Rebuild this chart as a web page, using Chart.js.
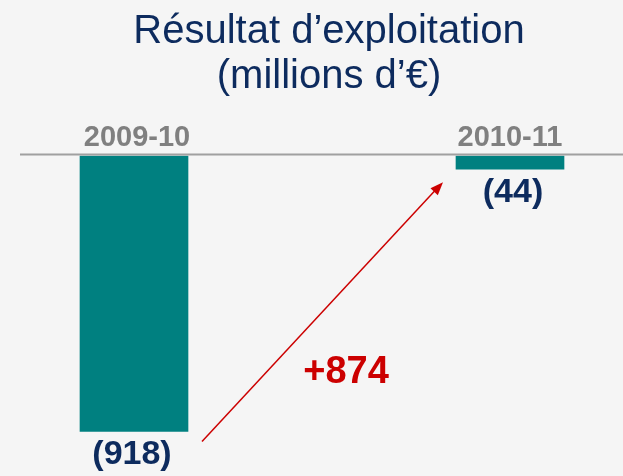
<!DOCTYPE html>
<html>
<head>
<meta charset="utf-8">
<script src="https://cdn.jsdelivr.net/npm/chart.js@4"></script>
<style>
  html, body { margin: 0; padding: 0; background: #f5f5f5; }
  #wrap { width: 623px; height: 476px; }
</style>
</head>
<body>
<div id="wrap"><canvas id="resChart" width="623" height="476"></canvas></div>
<script>
const titleLines = ['Résultat d\u2019exploitation', '(millions d\u2019\u20ac)'];
const periods = ['2009-10', '2010-11'];
const results = [-918, -44];
const changeLabel = '+874';

// étiquettes : (918) au lieu de -918
const fmt = v => v < 0 ? '(' + Math.abs(v) + ')' : String(v);

const decorPlugin = {
  id: 'decor',
  beforeDraw(chart) {
    const c = chart.ctx;
    c.save();
    c.fillStyle = '#f5f5f5';
    c.fillRect(0, 0, chart.width, chart.height);
    c.restore();
  },
  afterDatasetsDraw(chart) {
    const c = chart.ctx;
    const y = chart.scales.y;
    const meta = chart.getDatasetMeta(0);
    const zero = y.getPixelForValue(0);
    c.save();

    // titre
    c.fillStyle = '#0d2b5e';
    c.font = '40px "Liberation Sans", Arial, sans-serif';
    c.textAlign = 'center';
    c.textBaseline = 'alphabetic';
    c.fillText(titleLines[0], 329, 43);
    c.fillText(titleLines[1], 329, 88);

    // ligne de base
    c.strokeStyle = '#a0a0a0';
    c.lineWidth = 2;
    c.beginPath();
    c.moveTo(20, zero - 1.5);
    c.lineTo(chart.width, zero - 1.5);
    c.stroke();

    meta.data.forEach((bar, i) => {
      // période au-dessus de la ligne
      c.fillStyle = '#808080';
      c.font = 'bold 29px "Liberation Sans", Arial, sans-serif';
      c.fillText(periods[i], bar.x + (i === 0 ? 3 : 0), zero - 10);
      // valeur sous la barre
      c.fillStyle = '#0d2b5e';
      c.font = 'bold 34px "Liberation Sans", Arial, sans-serif';
      c.fillText(fmt(results[i]), bar.x + (i === 0 ? -2 : 3), bar.y + 33);
    });

    // flèche rouge
    const b0 = meta.data[0], b1 = meta.data[1];
    const x1 = b0.x + 68, y1 = b0.y + 10;
    const x2 = b1.x - 67, y2 = b1.y + 13;
    c.strokeStyle = '#cc0000';
    c.fillStyle = '#cc0000';
    c.lineWidth = 1.5;
    c.beginPath();
    c.moveTo(x1, y1);
    c.lineTo(x2 - 4, y2 + 4);
    c.stroke();
    const ang = Math.atan2(y2 - y1, x2 - x1);
    const hl = 13, hw = 5;
    c.beginPath();
    c.moveTo(x2, y2);
    c.lineTo(x2 - hl * Math.cos(ang) + hw * Math.sin(ang), y2 - hl * Math.sin(ang) - hw * Math.cos(ang));
    c.lineTo(x2 - hl * Math.cos(ang) - hw * Math.sin(ang), y2 - hl * Math.sin(ang) + hw * Math.cos(ang));
    c.closePath();
    c.fill();

    c.font = 'bold 38px "Liberation Sans", Arial, sans-serif';
    c.fillText(changeLabel, 346, 383);
    c.restore();
  }
};

const ctx = document.getElementById('resChart').getContext('2d');
const resChart = new Chart(ctx, {
  type: 'bar',
  data: {
    labels: periods,
    datasets: [
      {
        data: results,
        backgroundColor: '#008080',
        borderWidth: 0,
        barThickness: 108,
        clip: false,
      },
    ],
  },
  options: {
    responsive: false,
    animation: false,
    layout: { padding: { top: 156, bottom: 20, left: 134, right: 113 } },
    plugins: {
      legend: { display: false },
      tooltip: { enabled: false },
    },
    scales: {
      x: { display: false, offset: false },
      y: { display: false, min: -1000, max: 0 },
    },
  },
  plugins: [decorPlugin],
});
</script>
</body>
</html>
